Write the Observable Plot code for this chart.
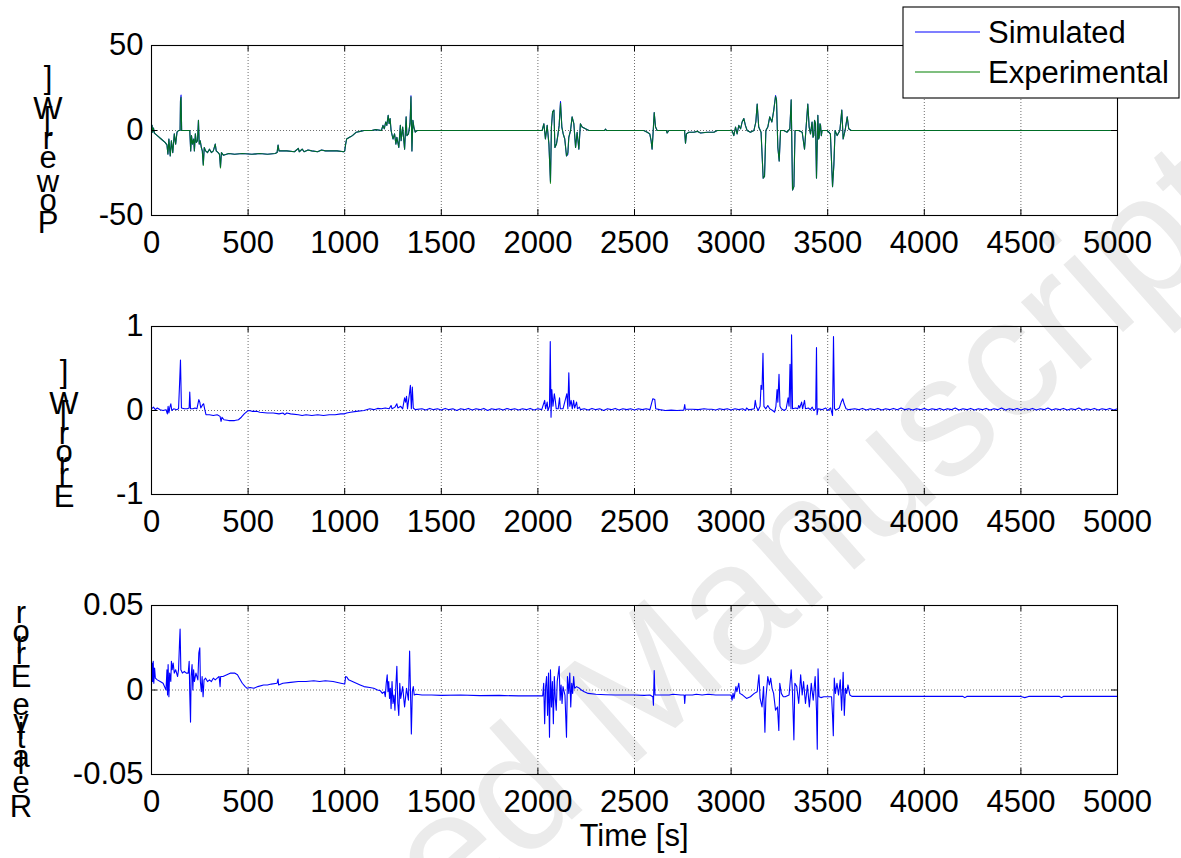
<!DOCTYPE html>
<html>
<head>
<meta charset="utf-8">
<script src="https://cdn.jsdelivr.net/npm/d3@7"></script>
<script src="https://cdn.jsdelivr.net/npm/@observablehq/plot@0.6"></script>
<style>
html,body{margin:0;padding:0;background:#fff;}
#root{position:relative;width:1181px;height:858px;overflow:hidden;font-family:"Liberation Sans",Arial,sans-serif;}
#root > svg{position:absolute;left:0;}
</style>
</head>
<body>
<div id="root"></div>
<script>
// ---------- data ----------
const xTicks = [0,500,1000,1500,2000,2500,3000,3500,4000,4500,5000];
const powerTicks = [-50,0,50];
const errorTicks = [-1,0,1];
const relTicks = [-0.05,0,0.05];
const seriesNames = ["Simulated","Experimental"];
const yLabels = ["Power [W]","Error [W]","Relative Error"];
const xLabel = "Time [s]";
const watermarkText = "Accepted Manuscript";

// Power [W], experimental: [time s, value W]
const powerExperimental = [[0,0],[3,3],[6,-1],[10,1.5],[15,-1.5],[30,-3],[50,-5],[70,-7],[80,-8.5],[85,-14],[90,-5],[97,-15],[103,-6],[110,-13],[118,-2],[125,-8],[132,-1],[140,0],[148,0],[150,17],[153,19.6],[156,0],[170,0],[198,0],[203,-12],[207,-3],[212,-8],[218,-5],[222,-12],[227,-2],[232,-7],[238,-6],[243,6],[247,-8],[252,-6],[258,-10],[263,-12],[268,-20.5],[273,-10],[280,-12],[290,-13],[300,-11],[310,-13],[320,-12],[330,-8],[335,-12],[345,-13],[352,-14],[357,-22],[362,-13],[372,-14.5],[400,-13.5],[430,-14],[470,-13.5],[520,-14],[560,-13.5],[600,-14],[640,-13.5],[650,-13],[655,-8.5],[660,-12],[700,-12],[740,-12.5],[760,-10.5],[765,-12.5],[780,-11],[790,-12.5],[810,-11.5],[830,-12],[860,-12.5],[880,-11.5],[900,-12],[960,-12],[995,-12.5],[1000,-12],[1005,-8],[1010,-5],[1025,-4],[1040,-3],[1060,-1],[1080,-0.5],[1100,0],[1140,0],[1160,0.5],[1190,0],[1198,3],[1205,1],[1212,5],[1218,3],[1225,9],[1230,4],[1235,7],[1240,0],[1250,-5],[1258,-2],[1265,-8],[1270,-4],[1280,-10],[1288,3],[1292,-6],[1300,2],[1310,-11],[1318,8],[1322,-3],[1330,-2],[1338,4],[1343,19.8],[1348,-12],[1353,6],[1358,2],[1365,-1],[1375,0],
[2022,0],[2031,4],[2039,-5],[2048,3],[2057,-8],[2065,-31],[2070,2],[2076,11],[2083,12],[2088,-10],[2096,-8],[2103,-3],[2110,3],[2117,16],[2124,2],[2131,-2],[2139,-5],[2148,-15],[2155,-13],[2160,-4],[2169,0],[2177,8],[2186,4],[2195,-10],[2203,-1],[2212,-11],[2220,4],[2229,2],[2246,1],[2264,0],[2345,0],[2350,0.8],[2355,0],
[2548,0],[2566,-1],[2579,-2],[2586,-6],[2591,-11],[2597,0],[2602,10.5],[2609,2],[2617,0],[2665,0],[2669,-1.5],[2678,0],[2759,0],[2764,-7.5],[2769,-2],[2781,-1],[2807,-1],[2824,-0.5],[2842,-1.5],[2876,-1],[2911,-1],[2928,0],
[3005,0],[3014,-3],[3023,2],[3031,-2],[3040,3],[3049,1],[3057,5],[3066,7],[3074,3],[3083,0],[3100,-1],[3118,0],[3128,5],[3135,15.5],[3143,2],[3155,-1],[3166,-28],[3173,-27],[3180,0],[3190,2],[3200,8],[3211,5],[3221,12],[3230,20],[3235,18],[3242,-10],[3249,-18],[3256,0],[3273,0],[3290,-1],[3304,1],[3311,18],[3318,-35],[3325,-33],[3331,0],[3350,0],[3368,-1],[3380,-11],[3387,0],[3397,15.5],[3404,2],[3411,-2],[3419,5],[3424,-4],[3428,-3],[3432,6],[3437,4],[3442,-28],[3449,9],[3453,-5],[3456,-4],[3460,4],[3463,3],[3467,-3],[3471,0],[3497,0],[3514,-2],[3525,-33],[3532,-20],[3538,0],[3549,-3],[3563,0],[3573,12],[3580,-5],[3590,0],[3601,8],[3609,1],[3621,0],[5000,0]];

// Power [W], simulated: [time s, value W]
const powerSimulated = [[0,0],[3,3],[6,-1],[10,1.5],[15,-1.5],[30,-3],[50,-5],[70,-7],[80,-8.5],[85,-14],[90,-5],[97,-15],[103,-6],[110,-13],[118,-2],[125,-8],[132,-1],[140,0],[148,0],[150,17.5],[153,20.8],[156,0],[170,0],[198,0],[203,-12],[207,-3],[212,-8],[218,-5],[222,-12],[227,-2],[232,-7],[238,-6],[243,6],[247,-8],[252,-6],[258,-10],[263,-12],[268,-20],[273,-10],[280,-12],[290,-13],[300,-11],[310,-13],[320,-12],[330,-8],[335,-12],[345,-13],[352,-14],[357,-21.5],[362,-13],[372,-14.5],[400,-13.5],[430,-14],[470,-13.5],[520,-14],[560,-13.5],[600,-14],[640,-13.5],[650,-13],[655,-8.5],[660,-12],[700,-12],[740,-12.5],[760,-10.5],[765,-12.5],[780,-11],[790,-12.5],[810,-11.5],[830,-12],[860,-12.5],[880,-11.5],[900,-12],[960,-12],[995,-12.5],[1000,-12],[1005,-8],[1010,-5],[1025,-4],[1040,-3],[1060,-1],[1080,-0.5],[1100,0],[1140,0],[1160,0.5],[1190,0],[1198,3],[1205,1],[1212,5],[1218,3],[1225,9],[1230,4],[1235,7],[1240,0],[1250,-5],[1258,-2],[1265,-8],[1270,-4],[1280,-10],[1288,3],[1292,-6],[1300,2],[1310,-11],[1318,8],[1322,-3],[1330,-2],[1338,4],[1343,20.4],[1348,-12],[1353,6],[1358,2],[1365,-1],[1375,0],
[2022,0],[2031,4],[2039,-5],[2048,3],[2057,-8],[2065,-30],[2070,2],[2076,11],[2083,12],[2088,-10],[2096,-8],[2103,-3],[2110,3],[2117,17],[2124,2],[2131,-2],[2139,-5],[2148,-15],[2155,-14],[2160,-4],[2169,0],[2177,8],[2186,4],[2195,-10],[2203,-1],[2212,-11],[2220,4],[2229,2],[2246,1],[2264,0],[2345,0],[2350,0.8],[2355,0],
[2548,0],[2566,-1],[2579,-2],[2586,-6],[2591,-11],[2597,0],[2602,10.5],[2609,2],[2617,0],[2665,0],[2669,-1.5],[2678,0],[2759,0],[2764,-7.5],[2769,-2],[2781,-1],[2807,-1],[2824,-0.5],[2842,-1.5],[2876,-1],[2911,-1],[2928,0],
[3005,0],[3014,-3],[3023,2],[3031,-2],[3040,3],[3049,1],[3057,5],[3066,7],[3074,3],[3083,0],[3100,-1],[3118,0],[3128,5],[3135,15.5],[3143,2],[3155,-1],[3166,-28],[3173,-27],[3180,0],[3190,2],[3200,8],[3211,5],[3221,12],[3230,20.5],[3235,18],[3242,-10],[3249,-18],[3256,0],[3273,0],[3290,-1],[3304,1],[3311,18],[3318,-35],[3325,-33],[3331,0],[3350,0],[3368,-1],[3380,-11],[3387,0],[3397,15.5],[3404,2],[3411,-2],[3419,5],[3424,-4],[3428,-3],[3432,6],[3437,4],[3442,-28],[3449,9],[3453,-5],[3456,-4],[3460,4],[3463,3],[3467,-3],[3471,0],[3497,0],[3514,-2],[3525,-33],[3532,-20],[3538,0],[3549,-3],[3563,0],[3573,12],[3580,-5],[3590,0],[3601,8],[3609,1],[3621,0],[5000,0]];

// Error [W]: [time s, value W]
const errorSeries = [[0,0.02],[10,0.04],[20,0.01],[30,0.03],[45,0.01],[60,0.0],[75,0.01],[82,-0.04],[86,0.05],[90,-0.03],[95,0.04],[100,0.08],[105,0.0],[115,0.02],[130,0.01],[140,0.02],[145,0.3],[150,0.6],[155,0.03],[170,0.02],[185,0.02],[195,0.03],[198,0.22],[202,0.02],[215,0.02],[225,0.03],[235,0.02],[245,0.13],[250,0.1],[255,0.03],[265,0.07],[270,0.08],[275,0.02],[282,-0.05],[300,-0.05],[320,-0.06],[340,-0.05],[355,-0.07],[360,-0.13],[365,-0.08],[375,-0.11],[400,-0.12],[430,-0.12],[450,-0.11],[465,-0.08],[480,-0.04],[495,-0.01],[505,0.0],[520,-0.01],[545,-0.01],[560,-0.02],[600,-0.03],[630,-0.03],[660,-0.04],[680,-0.03],[690,-0.05],[700,-0.03],[720,-0.04],[760,-0.05],[780,-0.06],[800,-0.05],[830,-0.06],[860,-0.05],[890,-0.06],[920,-0.05],[950,-0.05],[980,-0.04],[1000,-0.04],[1010,-0.03],[1030,-0.02],[1060,-0.01],[1100,0.0],[1130,0.02],[1150,0.01],[1170,0.025],[1190,0.02],[1210,0.03],[1230,0.02],[1240,0.06],[1245,0.02],[1260,0.04],[1270,0.08],[1275,0.03],[1290,0.05],[1300,0.02],[1310,0.15],[1315,0.1],[1320,0.17],[1325,0.02],[1335,0.2],[1340,0.3],[1345,0.02],[1350,0.28],[1355,0.03],[1365,0.01],
[1400,0.02],[1420,0.005],[1440,0.025],[1460,0.01],[1480,0.02],[1500,0.005],[1520,0.025],[1540,0.01],[1560,0.02],[1580,0.0],[1600,0.02],[1620,0.01],[1640,0.025],[1660,0.005],[1680,0.02],[1700,0.01],[1720,0.025],[1740,0.0],[1760,0.02],[1780,0.01],[1800,0.02],[1820,0.005],[1840,0.025],[1860,0.01],[1880,0.02],[1900,0.005],[1920,0.02],[1940,0.01],[1960,0.025],[1980,0.005],[2000,0.02],[2020,0.01],
[2035,0.12],[2040,0.02],[2048,0.1],[2052,0.0],[2060,0.05],[2064,0.82],[2068,-0.08],[2072,0.25],[2078,0.05],[2085,0.2],[2090,0.12],[2095,0.02],[2105,0.02],[2112,0.15],[2116,0.02],[2130,0.02],[2150,0.2],[2155,0.02],[2160,0.45],[2165,0.05],[2172,0.12],[2178,0.02],[2185,0.12],[2190,0.03],[2200,0.1],[2205,0.02],[2215,0.04],[2220,0.01],
[2240,0.02],[2260,0.005],[2280,0.025],[2300,0.01],[2320,0.02],[2340,0.0],[2360,0.02],[2380,0.01],[2400,0.025],[2420,0.005],[2440,0.02],[2460,0.01],[2480,0.02],[2500,0.005],[2520,0.02],[2540,0.01],[2560,0.02],[2580,0.01],
[2590,0.1],[2595,0.14],[2605,0.13],[2610,0.02],[2630,0.01],[2660,0.0],[2690,0.005],[2720,0.0],[2755,0.005],[2760,0.07],[2763,0.015],[2800,0.015],[2830,0.01],[2860,0.02],[2880,0.015],[2900,0.015],[2920,0.005],[2940,0.02],[2960,0.01],[2980,0.02],[3000,0.005],[3020,0.02],[3040,0.01],[3060,0.02],[3075,0.0],[3080,0.03],[3090,0.01],[3100,0.01],
[3120,0.02],[3125,0.12],[3130,0.05],[3140,0.0],[3150,0.05],[3155,0.3],[3160,0.25],[3165,0.68],[3170,0.05],[3180,0.02],[3190,0.06],[3200,0.02],[3215,0.0],[3225,-0.02],[3232,0.05],[3238,0.25],[3242,0.1],[3248,0.43],[3253,0.05],[3260,0.02],[3275,0.0],[3285,0.02],[3295,0.15],[3300,0.05],[3305,0.55],[3310,0.02],[3313,0.9],[3318,0.02],[3335,0.03],[3345,0.02],[3350,0.06],[3355,0.03],[3365,0.1],[3370,0.02],[3380,0.12],[3385,0.02],[3400,0.03],[3410,0.01],[3420,0.04],[3428,0.0],[3438,0.02],[3442,0.75],[3445,-0.05],[3450,0.02],[3470,0.01],[3490,0.03],[3500,0.0],[3515,0.03],[3525,-0.06],[3530,0.88],[3535,0.02],[3545,0.01],[3560,0.03],[3570,0.1],[3578,0.14],[3585,0.08],[3595,0.02],[3610,0.01],
[3640,0.02],[3660,0.01],[3680,0.025],[3700,0.005],[3720,0.02],[3740,0.01],[3760,0.025],[3780,0.005],[3800,0.02],[3820,0.01],[3840,0.025],[3860,0.01],[3880,0.03],[3900,0.01],[3920,0.02],[3940,0.005],[3960,0.02],[3980,0.01],[4000,0.025],[4020,0.005],[4040,0.02],[4060,0.01],[4080,0.025],[4100,0.005],[4120,0.02],[4140,0.01],[4160,0.03],[4180,0.005],[4200,0.02],[4220,0.01],[4240,0.025],[4260,0.005],[4280,0.02],[4300,0.01],[4320,0.025],[4340,0.005],[4360,0.02],[4380,0.01],[4400,0.03],[4420,0.005],[4440,0.02],[4460,0.01],[4480,0.025],[4500,0.005],[4520,0.02],[4540,0.01],[4560,0.025],[4580,0.005],[4600,0.02],[4620,0.01],[4640,0.03],[4660,0.005],[4680,0.02],[4700,0.01],[4720,0.025],[4740,0.005],[4760,0.02],[4780,0.01],[4800,0.03],[4820,0.005],[4840,0.02],[4860,0.01],[4880,0.025],[4900,0.005],[4920,0.02],[4940,0.01],[4960,0.025],[4980,0.005],[5000,0.02]];

// Relative error: [time s, value]
const relativeErrorSeries = [[0,0.003],[3,0.016],[6,0.005],[9,0.017],[12,0.004],[16,0.013],[20,0.007],[30,0.006],[45,0.005],[60,0.004],[75,0.0],[80,0.012],[83,-0.003],[86,0.015],[90,-0.004],[94,0.01],[100,0.005],[103,0.017],[107,0.012],[112,0.016],[118,0.01],[125,0.012],[135,0.008],[140,0.012],[145,0.028],[148,0.036],[152,0.012],[160,0.01],[170,0.011],[180,0.01],[190,0.01],[195,0.017],[198,-0.002],[202,-0.019],[205,0.008],[210,0.015],[214,0.0],[218,0.012],[222,0.005],[230,0.01],[240,0.006],[245,0.022],[250,0.025],[253,0.005],[258,-0.001],[262,0.008],[267,-0.004],[272,0.006],[280,0.007],[290,0.005],[300,0.006],[310,0.005],[320,0.007],[330,0.006],[340,0.007],[350,0.008],[355,0.002],[358,0.008],[370,0.008],[390,0.009],[410,0.01],[430,0.01],[445,0.009],[455,0.007],[470,0.004],[485,0.002],[495,0.001],[510,0.0015],[530,0.001],[550,0.002],[580,0.003],[600,0.003],[620,0.0035],[650,0.004],[655,0.0065],[658,0.003],[680,0.004],[720,0.0045],[760,0.005],[800,0.005],[840,0.0055],[870,0.005],[900,0.0055],[940,0.005],[980,0.004],[1000,0.0035],[1005,0.008],[1012,0.0075],[1020,0.006],[1040,0.005],[1060,0.004],[1080,0.003],[1100,0.002],[1130,0.0015],[1150,0.001],[1170,0.0],[1185,-0.0005],[1195,-0.002],[1205,-0.001],[1210,-0.004],[1215,0.004],[1220,0.009],[1224,-0.001],[1228,0.005],[1232,-0.005],[1236,0.001],[1240,-0.011],[1245,0.005],[1250,-0.008],[1255,-0.003],[1260,-0.012],[1265,0.003],[1270,0.014],[1275,-0.008],[1280,-0.015],[1285,0.004],[1290,-0.005],[1300,0.002],[1310,-0.01],[1320,0.001],[1330,-0.006],[1336,0.023],[1340,0.002],[1345,-0.026],[1350,-0.001],[1355,0.002],[1360,-0.003],[1370,-0.0025],[1400,-0.003],[1450,-0.003],[1500,-0.0032],[1600,-0.003],[1700,-0.0033],[1800,-0.0032],[1900,-0.0035],[2000,-0.0035],[2025,-0.0035],
[2030,0.004],[2035,-0.02],[2040,0.002],[2045,0.008],[2050,-0.015],[2055,0.01],[2060,-0.028],[2065,0.012],[2070,-0.01],[2075,0.005],[2080,-0.02],[2085,0.008],[2090,-0.005],[2095,-0.012],[2100,0.005],[2110,0.014],[2115,-0.006],[2120,0.003],[2125,-0.008],[2130,0.002],[2140,-0.003],[2148,-0.028],[2153,0.008],[2160,-0.002],[2165,0.01],[2170,-0.01],[2175,0.004],[2180,-0.002],[2185,0.008],[2190,0.001],[2200,0.002],[2215,0.001],[2225,0.0],[2240,-0.001],[2260,-0.002],[2300,-0.0025],[2350,-0.0028],[2400,-0.003],[2450,-0.003],[2500,-0.003],[2550,-0.0032],[2580,-0.003],[2595,-0.004],[2598,-0.009],[2602,0.0115],[2606,-0.003],[2620,-0.003],[2680,-0.003],[2700,-0.0025],[2740,-0.003],[2757,-0.003],[2760,-0.008],[2763,-0.003],[2800,-0.003],[2820,-0.0025],[2850,-0.003],[2880,-0.0025],[2920,-0.003],[3000,-0.003],
[3005,-0.006],[3010,-0.002],[3015,-0.005],[3025,0.002],[3030,-0.001],[3040,0.004],[3045,-0.002],[3060,-0.003],[3080,-0.005],[3100,-0.004],[3120,-0.002],[3135,-0.001],[3144,0.009],[3150,-0.005],[3160,-0.01],[3168,0.002],[3175,-0.025],[3180,-0.005],[3190,0.008],[3198,0.003],[3205,0.007],[3212,0.001],[3220,-0.002],[3230,-0.012],[3240,-0.01],[3247,-0.024],[3252,0.004],[3260,-0.002],[3270,-0.004],[3280,-0.004],[3300,-0.003],[3311,0.012],[3318,-0.002],[3325,-0.0295],[3330,0.004],[3340,0.002],[3350,-0.008],[3360,0.009],[3368,-0.003],[3375,0.005],[3385,-0.008],[3395,0.003],[3405,-0.01],[3415,0.004],[3425,-0.006],[3435,0.008],[3442,-0.012],[3446,-0.035],[3450,0.0125],[3455,-0.004],[3465,-0.0045],[3480,-0.004],[3500,-0.004],[3520,-0.004],[3525,-0.015],[3529,-0.027],[3534,0.007],[3540,-0.002],[3548,0.004],[3556,-0.003],[3565,0.006],[3572,-0.012],[3580,0.0105],[3586,-0.015],[3592,0.001],[3598,-0.002],[3605,0.003],[3615,-0.003],
[3625,-0.0038],[3700,-0.0038],[3800,-0.0038],[3900,-0.0038],[4000,-0.0038],[4100,-0.0038],[4200,-0.0038],[4210,-0.0045],[4220,-0.0038],[4400,-0.0038],[4500,-0.0038],[4520,-0.0045],[4540,-0.0038],[4700,-0.0038],[4710,-0.0045],[4720,-0.0038],[4850,-0.0038],[5000,-0.0038]];

// ---------- layout ----------
const W = 1181, H = 858;
const FONT = '"Liberation Sans", Arial, Helvetica, sans-serif';
const FS = 31;
const plotLeft = 151, plotRight = 1117;
const BLUE = "#0000ff", GREEN = "#008000";
const root = d3.select("#root");

// watermark (behind everything, partly off the page as in the source)
const wm = root.append("svg").attr("width", W).attr("height", H).style("top", "0px").style("z-index", 0);
wm.append("text")
  .attr("transform", "translate(615,702) rotate(-41.5)")
  .attr("text-anchor", "middle").attr("dy", "0.35em")
  .attr("font-family", FONT).attr("font-size", 170)
  .attr("fill", "#ebebeb")
  .text(watermarkText);

function panel({frameTop, frameBottom, yDomain, yTicks, lines}) {
  const mt = 12, mb = 60;
  const h = frameBottom - frameTop;
  const tickLenY = (yDomain[1] - yDomain[0]) * 6 / h;
  const tickLenX = (xTicks[xTicks.length-1] - xTicks[0]) * 6 / (plotRight - plotLeft);
  const grid = {stroke: "#6e6e6e", strokeDasharray: "1,2", strokeWidth: 1};
  const chart = Plot.plot({
    width: W, height: mt + h + mb,
    marginTop: mt, marginBottom: mb, marginLeft: plotLeft, marginRight: W - plotRight,
    style: {background: "transparent", fontFamily: FONT, fontSize: FS + "px", color: "black", overflow: "visible"},
    x: {domain: [xTicks[0], xTicks[xTicks.length-1]], ticks: xTicks, tickSize: 0, tickPadding: 15, tickFormat: d => String(d), label: null},
    y: {domain: yDomain, ticks: yTicks, tickSize: 0, tickPadding: 8, tickFormat: d => String(d), label: null},
    marks: [
      Plot.ruleX(xTicks, grid),
      Plot.ruleY([0], grid),
      ...lines,
      Plot.ruleX(xTicks, {x: d => d, y1: yDomain[0], y2: yDomain[0] + tickLenY, stroke: "black"}),
      Plot.ruleX(xTicks, {x: d => d, y1: yDomain[1], y2: yDomain[1] - tickLenY, stroke: "black"}),
      Plot.ruleY(yTicks, {y: d => d, x1: xTicks[0], x2: xTicks[0] + tickLenX, stroke: "black"}),
      Plot.ruleY(yTicks, {y: d => d, x1: xTicks[xTicks.length-1], x2: xTicks[xTicks.length-1] - tickLenX, stroke: "black"}),
      Plot.frame({stroke: "black", strokeWidth: 1.1})
    ]
  });
  d3.select(chart).style("position", "absolute").style("left", "0px").style("top", (frameTop - mt) + "px").style("z-index", 1);
  root.node().appendChild(chart);
}

const lineOpts = (color) => ({x: d => d[0], y: d => d[1], stroke: color, strokeWidth: 1.1, curve: "linear"});

panel({frameTop: 45, frameBottom: 215, yDomain: [-50, 50], yTicks: powerTicks,
  lines: [Plot.line(powerSimulated, lineOpts(BLUE)), Plot.line(powerExperimental, {...lineOpts(GREEN), strokeOpacity: 0.85})]});
panel({frameTop: 326, frameBottom: 494, yDomain: [-1, 1], yTicks: errorTicks,
  lines: [Plot.line(errorSeries, lineOpts(BLUE))]});
panel({frameTop: 605, frameBottom: 774, yDomain: [-0.05, 0.05], yTicks: relTicks,
  lines: [Plot.line(relativeErrorSeries, lineOpts(BLUE))]});

// ---------- overlay: labels & legend ----------
const ov = root.append("svg").attr("width", W).attr("height", H).style("top", "0px").style("z-index", 2)
  .attr("font-family", FONT).attr("font-size", FS);

const ctx = document.createElement("canvas").getContext("2d");
ctx.font = FS + "px " + FONT;
// y labels rendered as upright glyphs stacked bottom-to-top (as in the source figure)
function stackedLabel(text, xCenter, yBase, spacing) {
  let cum = 0;
  for (const ch of text) {
    if (ch !== " ") {
      ov.append("text").attr("x", xCenter).attr("y", yBase - cum * spacing)
        .attr("text-anchor", "middle").attr("fill", "black").text(ch);
    }
    cum += ctx.measureText(ch).width;
  }
}
stackedLabel(yLabels[0], 48, 233, 1.08);
stackedLabel(yLabels[1], 64, 507, 1.08);
stackedLabel(yLabels[2], 21, 817, 1.08);

ov.append("text").attr("x", (plotLeft + plotRight) / 2).attr("y", 846)
  .attr("text-anchor", "middle").attr("fill", "black").text(xLabel);

// legend
const lg = ov.append("g");
lg.append("rect").attr("x", 903).attr("y", 7).attr("width", 276).attr("height", 91)
  .attr("fill", "white").attr("stroke", "black").attr("stroke-width", 1.1);
[[seriesNames[0], BLUE, 32], [seriesNames[1], GREEN, 72]].forEach(([name, color, y]) => {
  lg.append("line").attr("x1", 915).attr("x2", 980).attr("y1", y).attr("y2", y).attr("stroke", color).attr("stroke-width", 1.1);
  lg.append("text").attr("x", 988).attr("y", y + 11).attr("fill", "black").text(name);
});
</script>
</body>
</html>
